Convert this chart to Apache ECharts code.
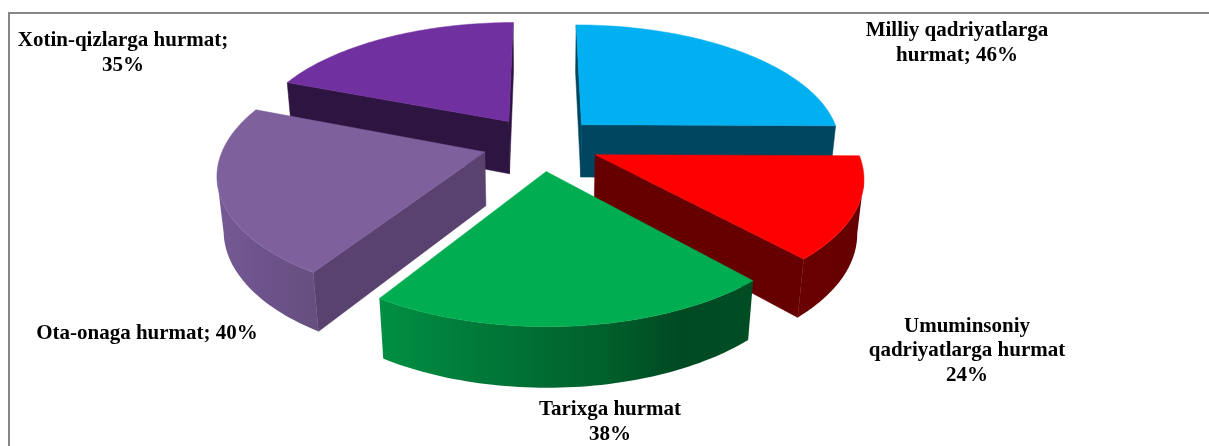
<!DOCTYPE html>
<html>
<head>
<meta charset="utf-8">
<title>Hurmat</title>
<style>
  html, body { margin: 0; padding: 0; background: #fff; }
  #main { width: 1209px; height: 446px; }
</style>
<script src="https://cdn.jsdelivr.net/npm/echarts@6/dist/echarts.min.js"></script>
</head>
<body>
<div id="main"></div>
<script>
var categories = ["Milliy qadriyatlarga\nhurmat; ", "Umuminsoniy\nqadriyatlarga hurmat\n", "Tarixga hurmat\n", "Ota-onaga hurmat; ", "Xotin-qizlarga hurmat;\n"];
var values = [46, 24, 38, 40, 35];

var topColors = ["#00b0f0", "#ff0000", "#00ad50", "#7e619c", "#7030a0"];
var faceColors = ["#004660", "#660000", "#00461f", "#5a4270", "#2e1440"];
var wallColors = [
  ["#005a7a", "#004660"],
  ["#6a0000", "#660000"],
  ["#008f43", "#007f3b", "#006f33", "#00602c", "#004a22", "#004d24"],
  ["#755a93", "#6c528a", "#66507f"],
  ["#3a1a50", "#2e1440"]
];
var labelPos = [[957, 43], [967, 351], [610, 422], [147, 334], [123, 53]];

// fake 3d: plane point (x, y) at height z, y grows toward the viewer
var cx = 541, cy = 143.4, scale = 260, tilt = 0.465, persp = 0.157, lift = 0.097;
var explode = 0.225, depth = -0.209;

function project(x, y, z) {
  var w = 1 - persp * y - lift * z;
  return [cx + scale * x / w, cy + scale * (tilt * y - z) / w];
}

var total = values.reduce(function (a, b) { return a + b; }, 0);
var start = 0;
var slices = values.map(function (v, i) {
  var a0 = start / total * Math.PI * 2;
  start += v;
  var a1 = start / total * Math.PI * 2;
  var mid = (a0 + a1) / 2;
  return { idx: i, a0: a0, a1: a1, ox: explode * Math.sin(mid), oy: -explode * Math.cos(mid) };
});
// back slices first so the front ones cover them
var order = slices.slice().sort(function (a, b) { return a.oy - b.oy; });

function rim(s, z) {
  var pts = [];
  for (var k = 0; k <= 60; k++) {
    var a = s.a0 + (s.a1 - s.a0) * k / 60;
    pts.push(project(s.ox + Math.sin(a), s.oy - Math.cos(a), z));
  }
  return pts;
}

function quad(p, q, p2, q2, color) {
  return { type: "polygon", shape: { points: [p, q, q2, p2] }, style: { fill: color, stroke: color, lineWidth: 0.5 } };
}

function wallFill(stops) {
  return new echarts.graphic.LinearGradient(0, 0, 1, 0, stops.map(function (c, i) {
    return { offset: i / (stops.length - 1), color: c };
  }));
}

function renderSlice(params) {
  var s = order[params.dataIndex];
  var i = s.idx;
  var top = rim(s, 0), bot = rim(s, depth);
  var apexTop = project(s.ox, s.oy, 0), apexBot = project(s.ox, s.oy, depth);
  var children = [];

  // radial faces, only when they turn to the viewer
  var n = top.length - 1;
  if (top[0][0] - apexTop[0] < 0) children.push(quad(apexTop, top[0], apexBot, bot[0], faceColors[i]));
  if (apexTop[0] - top[n][0] < 0) children.push(quad(top[n], apexTop, bot[n], apexBot, faceColors[i]));

  // outer wall, the part of the rim running leftwards on screen
  var upper = [], lower = [];
  for (var k = 0; k < n; k++) {
    if (top[k + 1][0] - top[k][0] < 0) {
      if (!upper.length) { upper.push(top[k]); lower.push(bot[k]); }
      upper.push(top[k + 1]);
      lower.push(bot[k + 1]);
    }
  }
  if (upper.length) {
    children.push({
      type: "polygon",
      shape: { points: upper.concat(lower.reverse()) },
      style: { fill: wallFill(wallColors[i]) }
    });
  }

  children.push({
    type: "polygon",
    shape: { points: [apexTop].concat(top) },
    style: { fill: topColors[i], stroke: topColors[i], lineWidth: 0.5 }
  });
  children.push({
    type: "text",
    z2: 10,
    style: {
      text: categories[i] + values[i] + "%",
      x: labelPos[i][0],
      y: labelPos[i][1],
      align: "center",
      verticalAlign: "middle",
      font: 'bold 21px "Liberation Serif"',
      lineHeight: 24.5,
      fill: "#000"
    }
  });
  return { type: "group", children: children };
}

var chart = echarts.init(document.getElementById("main"), null, { renderer: "canvas" });
chart.setOption({
  animation: false,
  backgroundColor: "#fff",
  tooltip: { show: false },
  graphic: [{
    type: "polyline",
    silent: true,
    shape: { points: [[9, 446], [9, 13], [1209, 13]] },
    style: { stroke: "#868686", lineWidth: 2, fill: null }
  }],
  series: [{
    type: "custom",
    coordinateSystem: "none",
    silent: true,
    renderItem: renderSlice,
    data: order.map(function (s) { return values[s.idx]; })
  }]
});
</script>
</body>
</html>
